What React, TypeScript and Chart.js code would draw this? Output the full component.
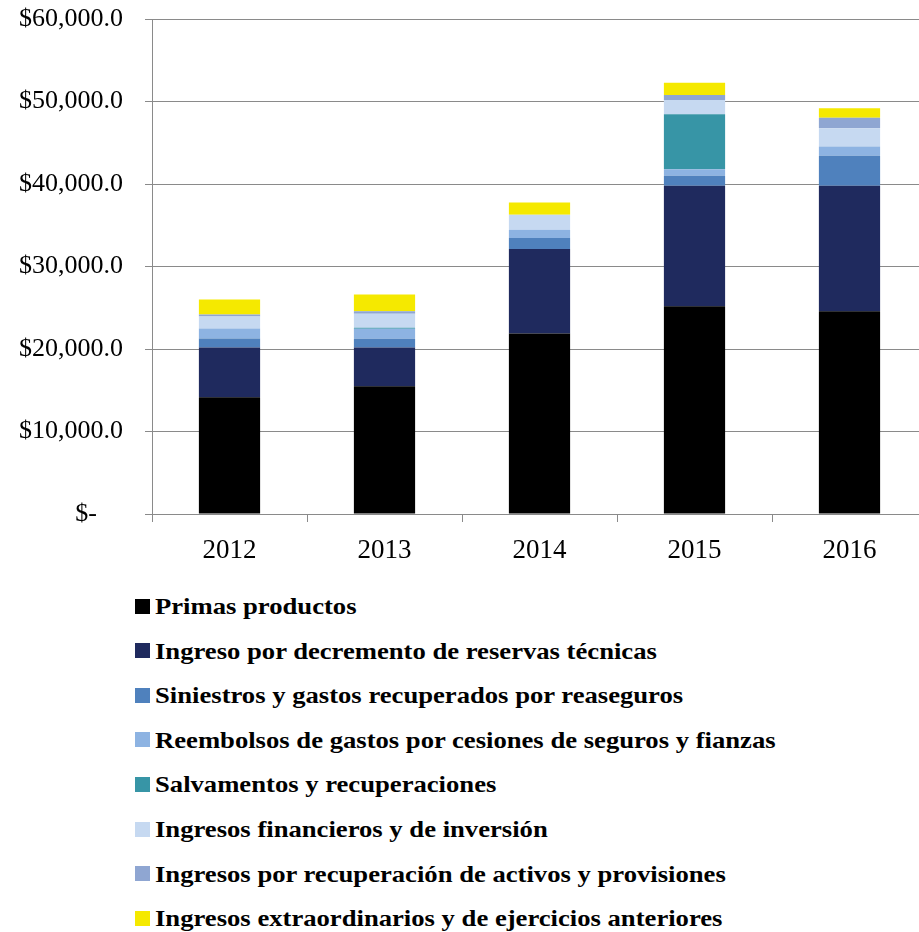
import React, { useEffect, useRef } from "react";
import { Chart, registerables } from "chart.js";

Chart.register(...registerables);

const years = ["2012", "2013", "2014", "2015", "2016"];
const primasProductos = [14150, 15480, 21890, 25190, 24590];
const decrementoReservas = [6040, 4710, 10240, 14590, 15190];
const siniestrosRecuperados = [1090, 1060, 1330, 1210, 3630];
const reembolsosGastos = [1210, 1200, 1000, 810, 1130];
const salvamentos = [0, 120, 0, 6650, 0];
const ingresosFinancieros = [1450, 1700, 1820, 1730, 2210];
const recuperacionActivos = [240, 320, 0, 610, 1290];
const extraordinarios = [1820, 2010, 1480, 1480, 1130];

const seriesNames = [
  "Primas productos",
  "Ingreso por decremento de reservas técnicas",
  "Siniestros y gastos recuperados por reaseguros",
  "Reembolsos de gastos por cesiones de seguros y fianzas",
  "Salvamentos y recuperaciones",
  "Ingresos financieros y de inversión",
  "Ingresos por recuperación de activos y provisiones",
  "Ingresos extraordinarios y de ejercicios anteriores",
];
const seriesColors = [
  "#000000",
  "#1F2A5E",
  "#4F81BD",
  "#8DB3E2",
  "#3795A6",
  "#C6D9F1",
  "#8FA6D2",
  "#F5E900",
];
const yTickValues = [0, 10000, 20000, 30000, 40000, 50000, 60000];
const yTickLabels = [
  "$-\u00A0\u00A0\u00A0\u00A0",
  "$10,000.0",
  "$20,000.0",
  "$30,000.0",
  "$40,000.0",
  "$50,000.0",
  "$60,000.0",
];

const FONT = "'Liberation Serif', 'Times New Roman', serif";

export default function App() {
  const ref = useRef<HTMLCanvasElement | null>(null);

  useEffect(() => {
    if (!ref.current) return;
    const seriesData = [
      primasProductos,
      decrementoReservas,
      siniestrosRecuperados,
      reembolsosGastos,
      salvamentos,
      ingresosFinancieros,
      recuperacionActivos,
      extraordinarios,
    ];
    const chart = new Chart(ref.current, {
      type: "bar",
      data: {
        labels: years,
        datasets: seriesData.map((d, i) => ({
          label: seriesNames[i],
          data: d,
          backgroundColor: seriesColors[i],
          borderWidth: 0,
          categoryPercentage: 1,
          barPercentage: 0.395,
        })),
      },
      options: {
        responsive: false,
        animation: false,
        layout: { padding: { top: 19, right: 0, left: 0, bottom: 0 } },
        plugins: {
          legend: { display: false },
          tooltip: { enabled: false },
        },
        scales: {
          x: {
            stacked: true,
            grid: {
              display: true,
              drawOnChartArea: false,
              drawTicks: true,
              tickLength: 8,
              color: "#8a8a8a",
              offset: true,
            },
            border: { display: true, color: "#8a8a8a", width: 1 },
            ticks: {
              color: "#000",
              padding: 13,
              font: { family: FONT, size: 27 },
            },
            afterFit: (scale: any) => {
              scale.height = 66;
              scale.paddingTop = 0;
              scale.paddingBottom = 0;
            },
          },
          y: {
            stacked: true,
            min: 0,
            max: 60000,
            afterBuildTicks: (scale: any) => {
              scale.ticks = yTickValues.map((v) => ({ value: v }));
            },
            grid: {
              color: "#8a8a8a",
              tickLength: 7,
              drawTicks: true,
            },
            border: { display: true, color: "#8a8a8a", width: 1 },
            ticks: {
              color: "#000",
              padding: 22,
              callback: (v: any) => {
                const idx = yTickValues.indexOf(Number(v));
                return idx >= 0 ? yTickLabels[idx] : "";
              },
              font: { family: FONT, size: 26 },
            },
            afterFit: (scale: any) => {
              scale.width = 152;
              scale.paddingTop = 0;
              scale.paddingBottom = 0;
            },
          },
        },
      },
    });
    return () => chart.destroy();
  }, []);

  const legendTop = 593;
  const rowGap = 44.6;

  return (
    <div
      style={{
        position: "absolute",
        left: 0,
        top: 0,
        width: 919,
        height: 932,
        overflow: "hidden",
        background: "#fff",
      }}
    >
      <canvas ref={ref} width={927} height={580} style={{ display: "block" }} />
      {seriesNames.map((name, i) => (
        <div
          key={name}
          style={{
            position: "absolute",
            left: 135,
            top: legendTop + i * rowGap,
            height: 26,
            display: "flex",
            alignItems: "center",
            whiteSpace: "nowrap",
          }}
        >
          <span
            style={{
              display: "inline-block",
              width: 15,
              height: 15,
              background: seriesColors[i],
              marginRight: 5,
            }}
          />
          <span
            style={{
              display: "inline-block",
              fontFamily: FONT,
              fontWeight: 700,
              fontSize: 24,
              color: "#000",
              lineHeight: "26px",
              transform: "scaleX(1.11)",
              transformOrigin: "left center",
            }}
          >
            {name}
          </span>
        </div>
      ))}
    </div>
  );
}
